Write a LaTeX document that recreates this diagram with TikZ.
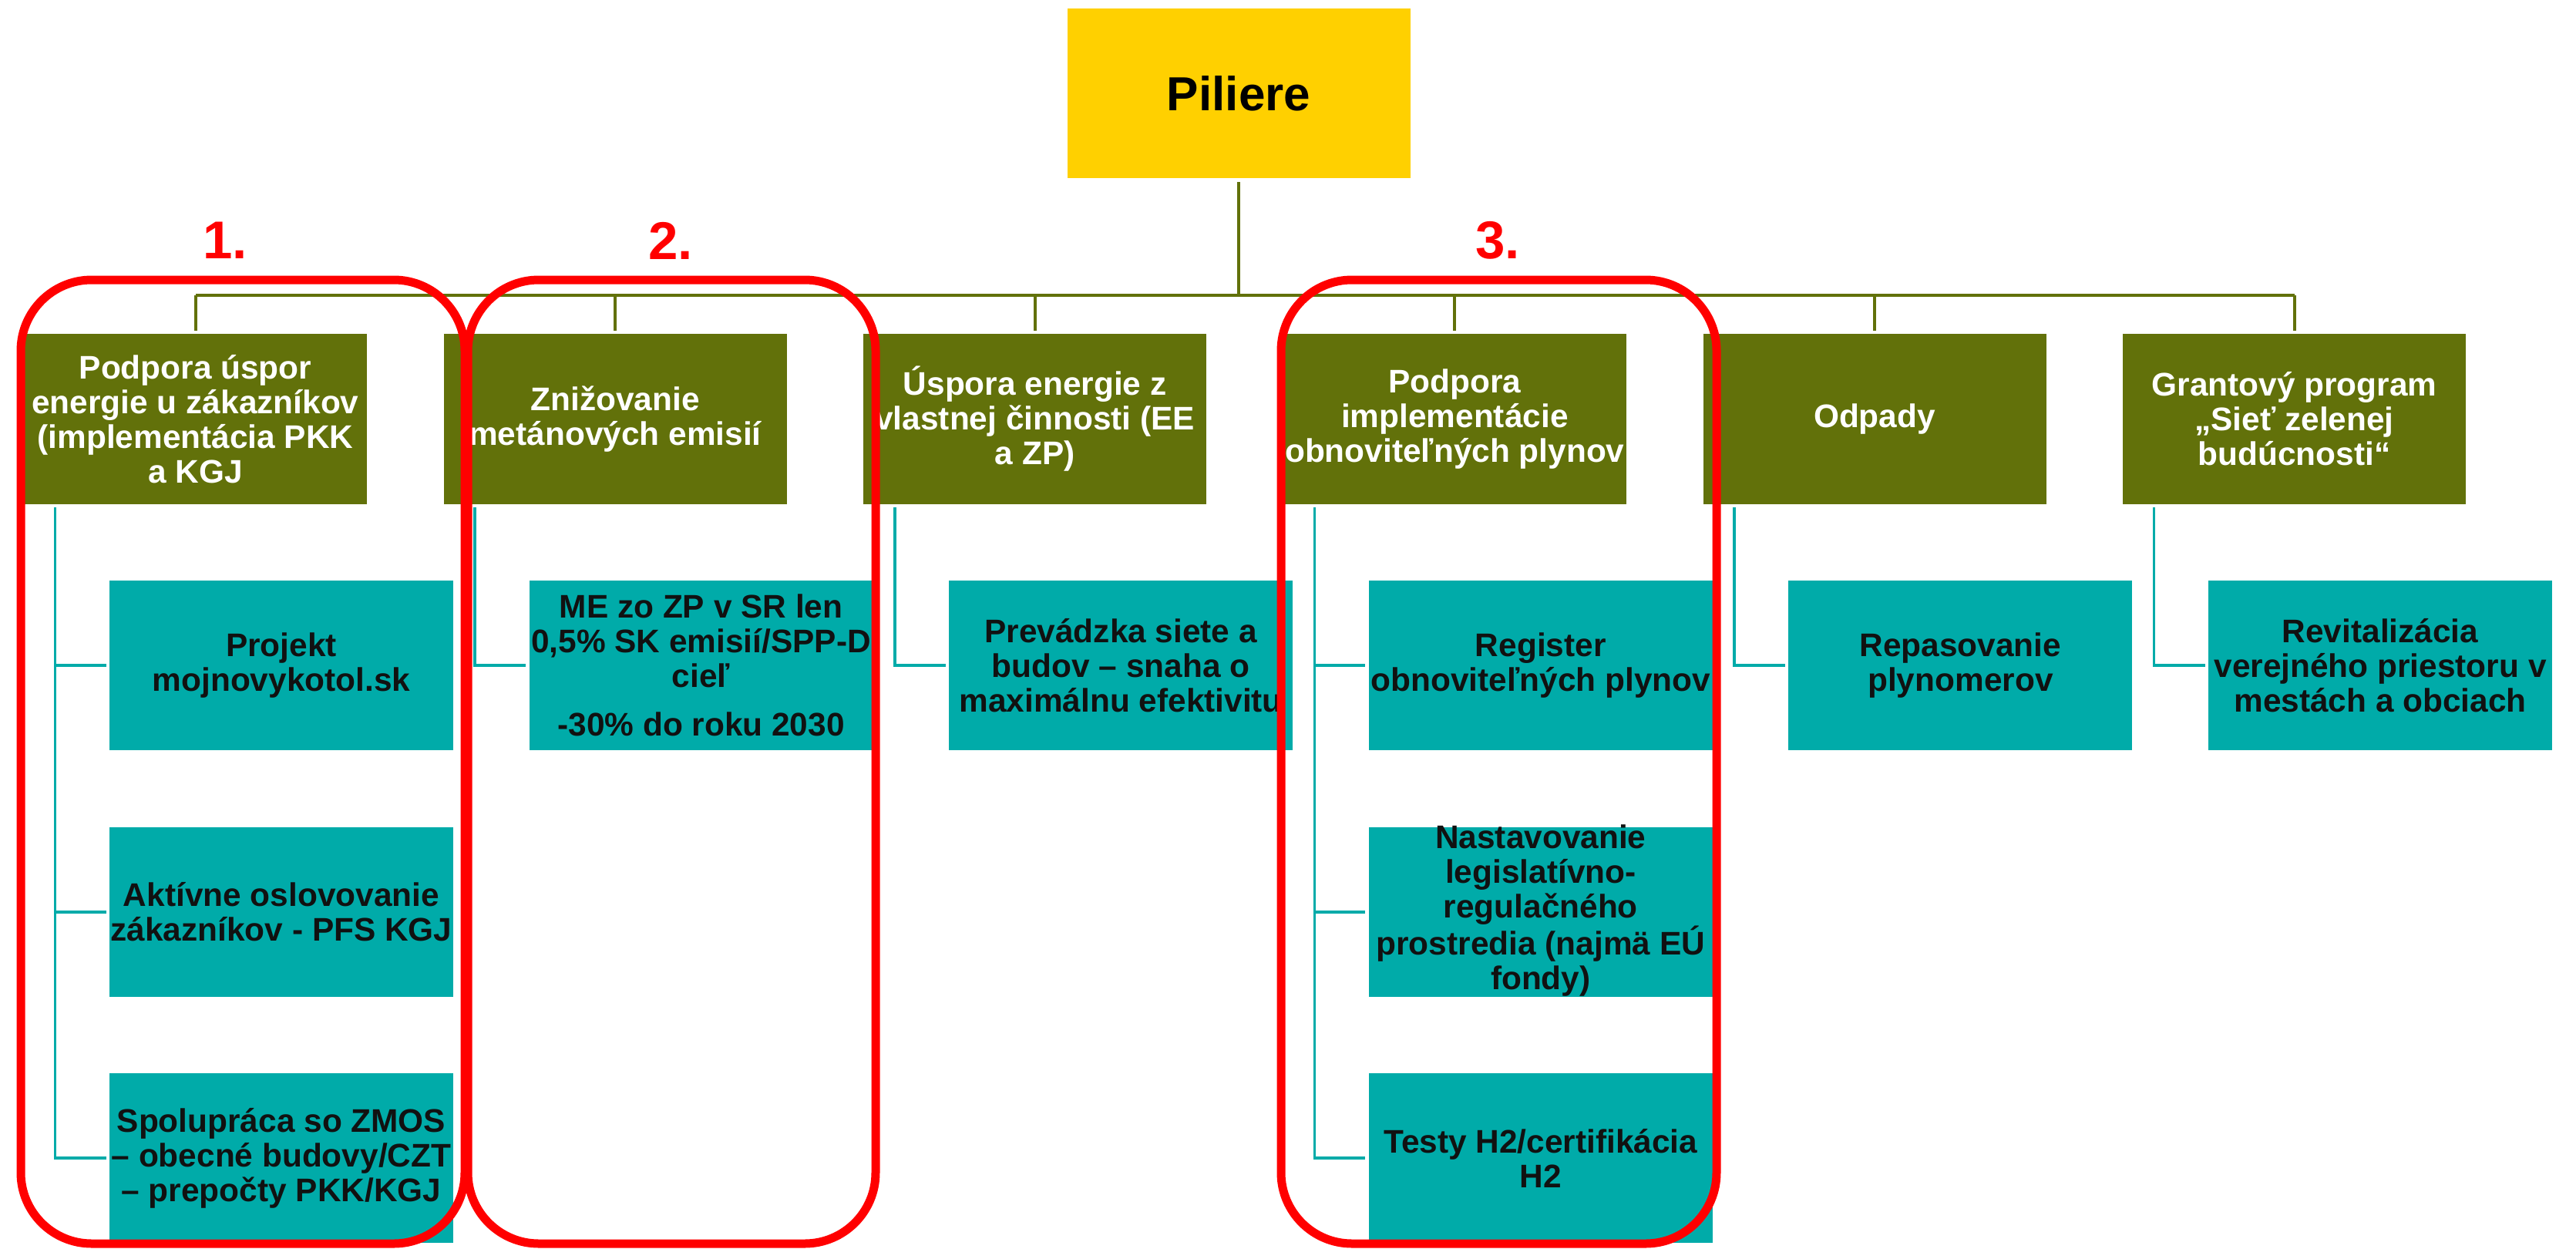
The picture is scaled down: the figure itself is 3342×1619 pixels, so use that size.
\documentclass[tikz,border=0pt]{standalone}
\usepackage{fontspec}
\setmainfont{Liberation Sans}
\definecolor{pilOlive}{RGB}{98,113,10}
\definecolor{pilTeal}{RGB}{0,171,169}
\definecolor{pilYellow}{RGB}{255,208,0}
\definecolor{pilRed}{RGB}{255,0,0}
\definecolor{pilInk}{RGB}{17,17,17}
\begin{document}
\begin{tikzpicture}[x=0.5pt,y=-0.5pt,
  lvlone/.style={fill=pilOlive, text=white, minimum width=222.5pt, minimum height=110.5pt,
    inner sep=0pt, align=center, font=\fontsize{21.2}{22.5}\selectfont\bfseries},
  lvltwo/.style={fill=pilTeal, text=pilInk, minimum width=223pt, minimum height=110pt,
    inner sep=0pt, align=center, font=\fontsize{21.2}{22.5}\selectfont\bfseries},
  lvltxt/.style={text=pilInk, inner sep=0pt, align=center, font=\fontsize{21.2}{22.5}\selectfont\bfseries},
  rootbox/.style={fill=pilYellow, text=black, minimum width=222.5pt, minimum height=110pt,
    inner sep=0pt, font=\fontsize{31}{33}\selectfont\bfseries},
  oline/.style={draw=pilOlive, line width=2pt},
  tline/.style={draw=pilTeal, line width=1.75pt},
  grp/.style={draw=pilRed, line width=5.5pt, rounded corners=46pt},
  num/.style={text=pilRed, inner sep=0pt, font=\fontsize{34.5}{36}\selectfont\bfseries}]
\useasboundingbox (0,0) rectangle (3342,1619);

% root
\node[rootbox] (root) at (1607,121) {Piliere};

% level 1
\node[lvlone] (p1) at (253.5,543.5) {Podpora úspor\\energie u zákazníkov\\(implementácia PKK\\a KGJ};
\node[lvlone] (p2) at (798,543.5) {Znižovanie\\metánových emisií};
\node[lvlone] (p3) at (1342.7,543.5) {Úspora energie z\\vlastnej činnosti (EE\\a ZP)};
\node[lvlone] (p4) at (1887.3,543.5) {Podpora\\implementácie\\obnoviteľných plynov};
\node[lvlone] (p5) at (2432,543.5) {Odpady};
\node[lvlone] (p6) at (2976.5,543.5) {Grantový program\\„Sieť zelenej\\budúcnosti“};

% level 2
\node[lvltwo] (c11) at (365,863) {Projekt\\mojnovykotol.sk};
\node[lvltwo] (c12) at (365,1183) {Aktívne oslovovanie\\zákazníkov - PFS KGJ};
\node[lvltwo] (c13) at (365,1502) {Spolupráca so ZMOS\\– obecné budovy/CZT\\– prepočty PKK/KGJ};
\node[lvltwo] (c21) at (909.6,863) {ME zo ZP v SR len\\0,5\% SK emisií/SPP-D\\cieľ\\[9pt]-30\% do roku 2030};
\node[lvltwo] (c31) at (1454.2,863) {Prevádzka siete a\\budov – snaha o\\maximálnu efektivitu};
\node[lvltwo] (c41) at (1998.8,863) {Register\\obnoviteľných plynov};
\node[lvltwo] (c42) at (1998.8,1183) {};
\node[lvltxt] (c42t) at ([yshift=1pt]c42.center) {Nastavovanie\\legislatívno-\\regulačného\\prostredia (najmä EÚ\\fondy)};
\node[lvltwo] (c43) at (1998.8,1502) {Testy H2/certifikácia\\H2};
\node[lvltwo] (c51) at (2543.4,863) {Repasovanie\\plynomerov};
\node[lvltwo] (c61) at (3088,863) {Revitalizácia\\verejného priestoru v\\mestách a obciach};

% olive connectors
\coordinate (bus) at (1607,383);
\draw[oline, shorten <=2.5pt] (root.south) -- (bus);
\draw[oline] (p1.north |- bus) -- (p6.north |- bus);
\foreach \i in {1,...,6}{
  \draw[oline, shorten >=2pt] (p\i.north |- bus) -- (p\i.north);
}

% teal connectors
\foreach \i in {1,...,6}{
  \coordinate (v\i) at ([xshift=20.5pt,yshift=-2pt]p\i.south west);
}
\draw[tline, shorten >=2pt] (v1) |- (c11.west);
\draw[tline, shorten >=2pt] (v1) |- (c12.west);
\draw[tline, shorten >=2pt] (v1) |- (c13.west);
\draw[tline, shorten >=2pt] (v2) |- (c21.west);
\draw[tline, shorten >=2pt] (v3) |- (c31.west);
\draw[tline, shorten >=2pt] (v4) |- (c41.west);
\draw[tline, shorten >=2pt] (v4) |- (c42.west);
\draw[tline, shorten >=2pt] (v4) |- (c43.west);
\draw[tline, shorten >=2pt] (v5) |- (c51.west);
\draw[tline, shorten >=2pt] (v6) |- (c61.west);

% red group frames
\draw[grp] (27,363) rectangle (603,1613);
\draw[grp] (607,363) rectangle (1136,1613);
\draw[grp] (1662,363) rectangle (2227,1613);

% group numbers
\node[num] (n1) at (292,312) {1.};
\node[num] (n2) at (870,312) {2.};
\node[num] (n3) at (1943,312) {3.};
\end{tikzpicture}
\end{document}
